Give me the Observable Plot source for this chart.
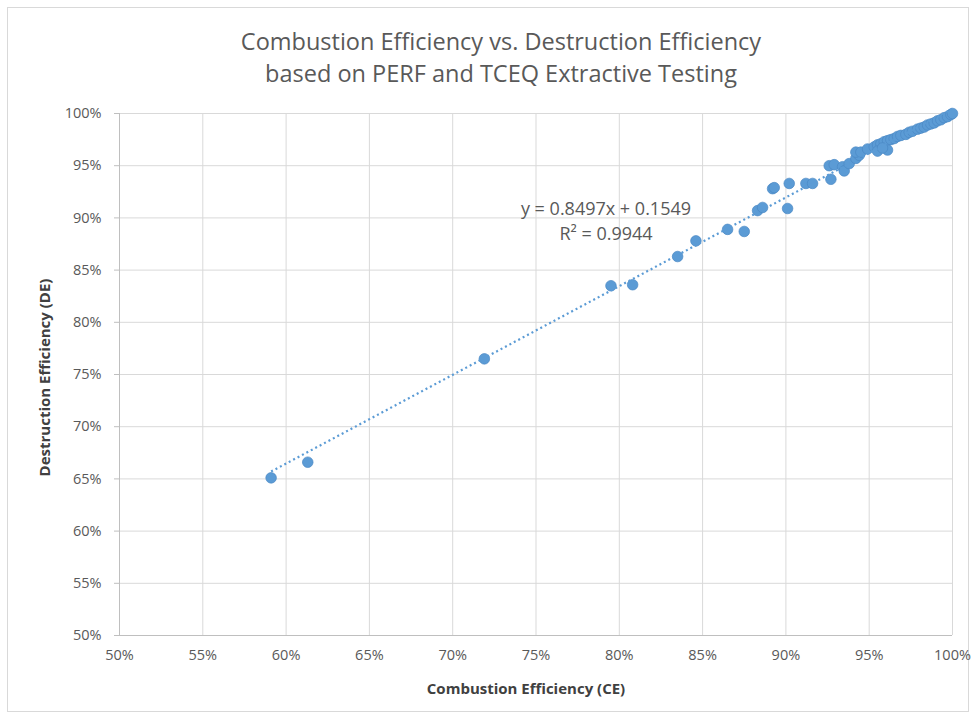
<!DOCTYPE html>
<html>
<head>
<meta charset="utf-8">
<script src="https://cdn.jsdelivr.net/npm/d3@7"></script>
<script src="https://cdn.jsdelivr.net/npm/@observablehq/plot@0.6"></script>
<style>
  html, body { margin: 0; padding: 0; background: #fff; }
  #wrap { position: relative; width: 980px; height: 717px; overflow: hidden; }
  #frame { position: absolute; left: 7px; top: 7px; width: 962px; height: 705px; border: 1px solid #d9d9d9; box-sizing: border-box; pointer-events: none; }
  #title { position: absolute; left: 0; top: 25px; width: 1002px; text-align: center; font-family: "Open Sans", sans-serif; font-size: 23.5px; line-height: 32px; color: #595959; letter-spacing: 0px; }
  #chart { position: absolute; left: 0; top: 95px; }
</style>
</head>
<body>
<div id="wrap">
  <div id="frame"></div>
  <div id="title">Combustion Efficiency vs. Destruction Efficiency<br>based on PERF and TCEQ Extractive Testing</div>
  <div id="chart"></div>
</div>
<script>
// Combustion efficiency (CE) values, fraction
const ce = [
  0.591, 0.613, 0.719, 0.795, 0.808, 0.835, 0.846, 0.865, 0.875,
  0.883, 0.886, 0.892, 0.893, 0.901, 0.902,
  0.912, 0.916, 0.927, 0.926, 0.929, 0.934, 0.935, 0.938,
  0.942, 0.944, 0.942, 0.945, 0.949, 0.953, 0.955, 0.957, 0.959,
  0.961, 0.963, 0.965, 0.967, 0.969, 0.972, 0.974, 0.976, 0.979,
  0.981, 0.983, 0.985, 0.987, 0.989, 0.991, 0.993, 0.995, 0.997, 0.999, 1.000,
  0.955, 0.961, 0.958
];
// Destruction efficiency (DE) values, fraction
const de = [
  0.651, 0.666, 0.765, 0.835, 0.836, 0.863, 0.878, 0.889, 0.887,
  0.907, 0.910, 0.928, 0.929, 0.909, 0.933,
  0.933, 0.933, 0.937, 0.950, 0.951, 0.949, 0.945, 0.952,
  0.957, 0.960, 0.963, 0.963, 0.966, 0.968, 0.970, 0.971, 0.973,
  0.974, 0.975, 0.976, 0.978, 0.979, 0.980, 0.982, 0.983, 0.985,
  0.986, 0.987, 0.989, 0.990, 0.991, 0.993, 0.994, 0.996, 0.997, 0.999, 1.000,
  0.964, 0.965, 0.967
];
// Trendline coefficients (as printed on the chart)
const slope = 0.8497;
const intercept = 0.1549;
const r2 = 0.9944;
// Tick values
const xTicks = [0.50, 0.55, 0.60, 0.65, 0.70, 0.75, 0.80, 0.85, 0.90, 0.95, 1.00];
const yTicks = [0.50, 0.55, 0.60, 0.65, 0.70, 0.75, 0.80, 0.85, 0.90, 0.95, 1.00];

const points = ce.map((x, i) => ({x, y: de[i]}));
const [xMin, xMax] = d3.extent(ce);
const trend = [xMin, xMax].map(x => ({x, y: slope * x + intercept}));
const label = [{x: 0.792, y: 0.908, text: `y = ${slope}x + ${intercept}`},
               {x: 0.792, y: 0.884, text: `R² = ${r2}`}];

const pct = d => `${Math.round(d * 100)}%`;

const chart = Plot.plot({
  width: 980,
  height: 622,
  marginLeft: 119,
  marginRight: 28,
  marginTop: 18,
  marginBottom: 82,
  style: { fontFamily: "Open Sans, sans-serif", color: "#595959", background: "transparent" },
  x: { domain: [0.5, 1.0], label: null },
  y: { domain: [0.5, 1.0], label: null },
  marks: [
    Plot.gridX(xTicks, { stroke: "#d9d9d9", strokeOpacity: 1, strokeWidth: 1 }),
    Plot.gridY(yTicks, { stroke: "#d9d9d9", strokeOpacity: 1, strokeWidth: 1 }),
    Plot.ruleX([0.5], { stroke: "#bfbfbf" }),
    Plot.ruleY([0.5], { stroke: "#bfbfbf" }),
    Plot.axisX({ ticks: xTicks, tickFormat: pct, tickSize: 0, tickPadding: 14, fontSize: 14.5, fill: "#595959", label: null }),
    Plot.axisY({ ticks: yTicks, tickFormat: pct, tickSize: 5, stroke: "#bfbfbf", tickPadding: 13, fontSize: 14.5, fill: "#595959", label: null }),
    Plot.dot(points, { x: "x", y: "y", r: 5.3, fill: "#5b9bd5", stroke: "#4a88c4", strokeWidth: 0.7 }),
    Plot.line(trend, { x: "x", y: "y", stroke: "#5b9bd5", strokeWidth: 2.2, strokeDasharray: "2,3", strokeLinecap: "butt" }),
    Plot.text(label, { x: "x", y: "y", text: "text", fontSize: 18, fill: "#595959" }),
    Plot.text(["Combustion Efficiency (CE)"], { frameAnchor: "bottom", dx: -10, dy: 58, fontSize: 15, fontWeight: "bold", fill: "#404040" }),
    Plot.text(["Destruction Efficiency (DE)"], { frameAnchor: "left", textAnchor: "middle", dx: -74, dy: 3, rotate: -90, fontSize: 15, fontWeight: "bold", fill: "#404040" })
  ]
});
document.getElementById("chart").appendChild(chart);
</script>
</body>
</html>
